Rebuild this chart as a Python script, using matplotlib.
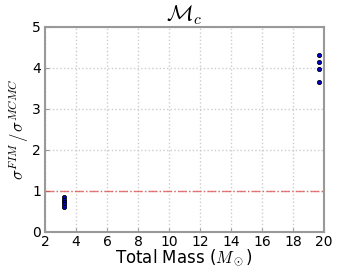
import matplotlib
matplotlib.use("Agg")
import matplotlib.pyplot as plt

plt.rcParams['mathtext.fontset'] = 'cm'

mass_low = [3.23, 3.23, 3.23, 3.23, 3.23]
ratio_low = [0.85, 0.79, 0.73, 0.67, 0.62]
mass_high = [19.7, 19.7, 19.7, 19.7]
ratio_high = [4.32, 4.14, 3.98, 3.66]
xticks = [2, 4, 6, 8, 10, 12, 14, 16, 18, 20]
yticks = [0, 1, 2, 3, 4, 5]

fig = plt.figure(figsize=(3.6, 2.7), dpi=100)
ax = fig.add_axes([0.125, 0.141, 0.775, 0.759])
ax.plot(mass_low + mass_high, ratio_low + ratio_high, 'o', color='#0000cc',
        markeredgecolor='black', markeredgewidth=0.6, markersize=3, zorder=3)
ax.axhline(1, color='#e04040', linestyle='-.', linewidth=1, alpha=0.7)
ax.set_xlim(2, 20)
ax.set_ylim(0, 5)
ax.set_xticks(xticks)
ax.set_yticks(yticks)
ax.grid(True, linestyle=':', color='#cccccc', linewidth=1)
for s in ax.spines.values():
    s.set_color('#999999')
    s.set_linewidth(1.5)
ax.tick_params(direction='in', length=3, color='#999999', labelsize=10)
ax.tick_params(axis='x', pad=2)
ax.tick_params(axis='y', pad=3)
ax.set_xlabel(r'Total Mass ($M_\odot$)', fontsize=12, labelpad=-1)
ax.set_ylabel(r'$\sigma^{FIM}\,/\,\sigma^{MCMC}$', fontsize=12, labelpad=1)
ax.set_title(r'$\mathcal{M}_c$', fontsize=16, pad=-4)
fig.savefig('out.png', dpi=100)
